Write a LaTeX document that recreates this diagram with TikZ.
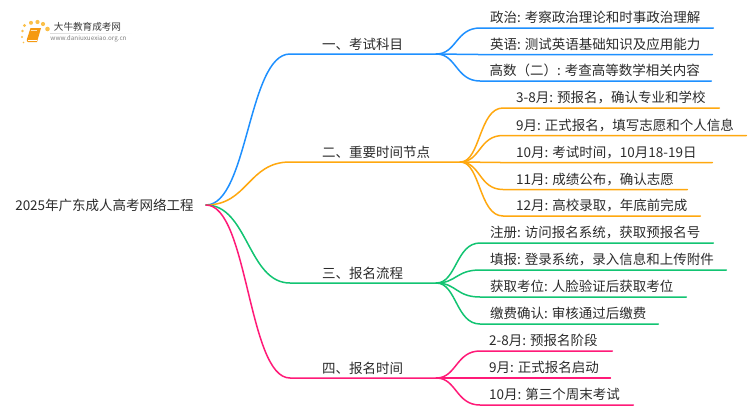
\documentclass[tikz,border=0pt]{standalone}
\usepackage{fontspec}
\setmainfont{Noto Sans CJK SC}
\definecolor{cblue}{HTML}{1E90FF}
\definecolor{corange}{HTML}{FFA80F}
\definecolor{cgreen}{HTML}{12C472}
\definecolor{cpink}{HTML}{FF1A78}
\definecolor{ctext}{HTML}{2B2B2B}
\definecolor{cbook}{HTML}{F59A12}
\definecolor{cdot}{HTML}{FBC04A}
\tikzset{
  lab/.style={inner xsep=0pt,inner ysep=0pt,text height=11pt,text depth=5pt,text=ctext,font=\fontsize{13.5pt}{15pt}\selectfont,anchor=south west},
  blab/.style={lab,text depth=4pt},
  conn/.style={line width=1.5pt,line cap=round},
  logodot/.style={fill=cdot},
}
% name, x, y of line, width, text offset, text
\newcommand{\leafnode}[6]{%
  \node[lab] (#1) at (#2pt,-#3pt) {\makebox[#4pt][l]{\hspace{#5pt}#6}};
}
\newcommand{\branchnode}[4]{%
  \node[blab] (#1) at (290pt,-#2pt) {\makebox[#3pt][l]{\hspace{32pt}#4}};
}
\begin{document}
\begin{tikzpicture}[x=1pt,y=1pt]
\useasboundingbox (0,0) rectangle (750,-410);
\fill[white] (0,0) rectangle (750,-410);
% logo
\foreach \x/\y/\s in {23.5/-42.5/.9,22/-37/1.2,22.5/-31/1.4,24.5/-25.5/1.7,31/-22.8/2,37.5/-22/2.1,43/-24/2.1,47.5/-29/2.3}
  \fill[logodot] (\x,\y) circle (\s);
\fill[cbook] (30.5,-28) -- (41,-28) -- (37,-42) -- (28,-42) .. controls (26.5,-42) and (26.5,-40) .. (27,-39) -- cycle;
\draw[white,line width=.5pt] (28,-40) -- (37.3,-40);
\draw[white!70!cbook,line width=.5pt] (30.5,-30) -- (37,-30);
\shade[left color=black!14,right color=white] (50,-33) rectangle (133,-33.6);
\node[text=black!78,font=\fontsize{9.6pt}{12pt}\selectfont,inner sep=0pt] (logot) at (87.5,-27) {大牛教育成考网};
\node[text=black!50,font=\fontsize{6.3pt}{8pt}\selectfont,inner sep=0pt] (logou) at (88.5,-38.8) {www.daniuxuexiao.org.cn};
% root
\node[text=ctext,font=\fontsize{13.5pt}{15pt}\selectfont,inner sep=0pt] (root) at (104.5,-205.5) {2025年广东成人高考网络工程};
\coordinate (r) at (206,-205);
% branches
\branchnode{b1}{54}{146}{一、考试科目}
\branchnode{b2}{162}{170}{二、重要时间节点}
\branchnode{b3}{283}{146}{三、报名流程}
\branchnode{b4}{378}{146}{四、报名时间}
% leaves
\leafnode{a1}{480}{28}{233}{10}{政治: 考察政治理论和时事政治理解}
\leafnode{a2}{480}{54.5}{232}{10}{英语: 测试英语基础知识及应用能力}
\leafnode{a3}{480}{81}{231}{9.5}{高数（二）: 考查高等数学相关内容}
\leafnode{o1}{503}{108}{216}{13}{3-8月: 预报名，确认专业和学校}
\leafnode{o2}{503}{135.5}{243}{13}{9月: 正式报名，填写志愿和个人信息}
\leafnode{o3}{503}{162.5}{209}{13}{10月: 考试时间，10月18-19日}
\leafnode{o4}{503}{189.5}{184}{13}{11月: 成绩公布，确认志愿}
\leafnode{o5}{503}{216}{197}{13}{12月: 高校录取，年底前完成}
\leafnode{g1}{480}{243}{233}{10}{注册: 访问报名系统，获取预报名号}
\leafnode{g2}{480}{270}{246}{10}{填报: 登录系统，录入信息和上传附件}
\leafnode{g3}{480}{297}{206}{10}{获取考位: 人脸验证后获取考位}
\leafnode{g4}{480}{324}{178}{10}{缴费确认: 审核通过后缴费}
\leafnode{p1}{480}{351}{132}{9}{2-8月: 预报名阶段}
\leafnode{p2}{480}{378}{130}{9}{9月: 正式报名启动}
\leafnode{p3}{480}{405}{153}{9}{10月: 第三个周末考试}
% connectors
\foreach \b/\c in {b1/cblue,b2/corange,b3/cgreen,b4/cpink}{
  \draw[conn,\c] (r) .. controls (248,-205) and (248,0|-\b.south west) .. (\b.south west) -- (\b.south east);
}
\foreach \l in {a1,a2,a3}{
  \draw[conn,cblue] (b1.south east) .. controls ([xshift=20pt]b1.south east) and ([xshift=-24pt]\l.south west) .. (\l.south west) -- (\l.south east);
}
\foreach \l in {o1,o2,o3,o4,o5}{
  \draw[conn,corange] (b2.south east) .. controls ([xshift=20pt]b2.south east) and ([xshift=-24pt]\l.south west) .. (\l.south west) -- (\l.south east);
}
\foreach \l in {g1,g2,g3,g4}{
  \draw[conn,cgreen] (b3.south east) .. controls ([xshift=20pt]b3.south east) and ([xshift=-24pt]\l.south west) .. (\l.south west) -- (\l.south east);
}
\foreach \l in {p1,p2,p3}{
  \draw[conn,cpink] (b4.south east) .. controls ([xshift=20pt]b4.south east) and ([xshift=-24pt]\l.south west) .. (\l.south west) -- (\l.south east);
}
\end{tikzpicture}
\end{document}
